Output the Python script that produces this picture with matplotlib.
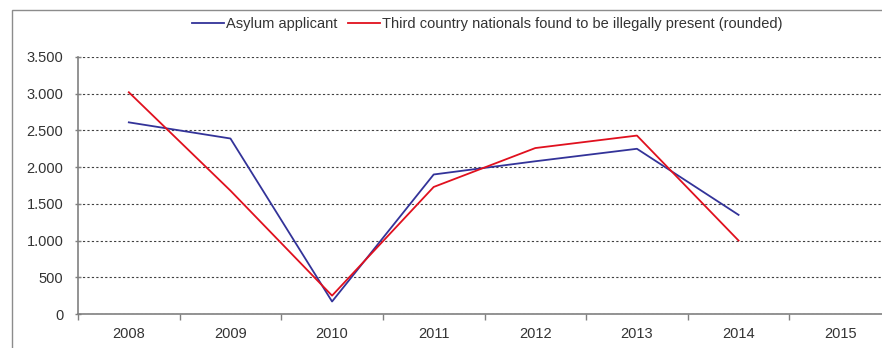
import matplotlib.pyplot as plt
from matplotlib.patches import Rectangle
from matplotlib.ticker import FuncFormatter, FixedLocator

plt.rcParams['font.family'] = ['Liberation Sans', 'DejaVu Sans']

# data
years = ['2008', '2009', '2010', '2011', '2012', '2013', '2014', '2015']
asylum = [2610, 2390, 170, 1900, 2080, 2250, 1350]
illegal = [3020, 1680, 250, 1730, 2260, 2430, 1000]
yticks = [0, 500, 1000, 1500, 2000, 2500, 3000, 3500]

fig = plt.figure(figsize=(8.82, 3.48), dpi=100)
ax = fig.add_axes([78 / 882, 1 - 314 / 348, (891 - 78) / 882, (314 - 57) / 348])

# outer chart frame (cropped on right and bottom)
fig.patches.append(Rectangle((12 / 882, -0.5), 2.0, 1 - 10 / 348 + 0.5,
                             transform=fig.transFigure, fill=False,
                             edgecolor='#8c8c8c', linewidth=1.0))

x = list(range(len(asylum)))
ax.plot(x, asylum, color='#333399', linewidth=1.3, label='Asylum applicant')
ax.plot(x, illegal, color='#e0101e', linewidth=1.3,
        label='Third country nationals found to be illegally present (rounded)')

ax.set_xlim(-0.5, len(years) - 0.5)
ax.set_ylim(0, 3500)
ax.set_yticks(yticks)
ax.yaxis.set_major_formatter(FuncFormatter(lambda v, p: f'{int(v):,}'.replace(',', '.')))
ax.set_xticks(range(len(years)))
ax.set_xticklabels(years)
ax.xaxis.set_minor_locator(FixedLocator([i + 0.5 for i in range(-1, len(years))]))
ax.tick_params(axis='x', which='major', length=0, pad=9, labelsize=10.5, colors='#333333')
ax.tick_params(axis='x', which='minor', length=4, width=1, color='#808080', direction='out')
ax.tick_params(axis='y', length=5, width=1, color='#808080', direction='inout',
               labelsize=10.5, pad=8, labelcolor='#333333')

ax.grid(axis='y', color='#404040', linestyle=(0, (2, 2)), linewidth=0.8)
for s in ['top', 'right']:
    ax.spines[s].set_visible(False)
for s in ['left', 'bottom']:
    ax.spines[s].set_color('#808080')
    ax.spines[s].set_linewidth(1.2)

leg = fig.legend(loc='center', bbox_to_anchor=(487 / 882, 1 - 24 / 348), ncol=2,
                 frameon=False, fontsize=10.5, handlelength=2.2, handletextpad=0.15,
                 columnspacing=0.7)
for t in leg.get_texts():
    t.set_color('#333333')

fig.savefig('out.png', dpi=100)
